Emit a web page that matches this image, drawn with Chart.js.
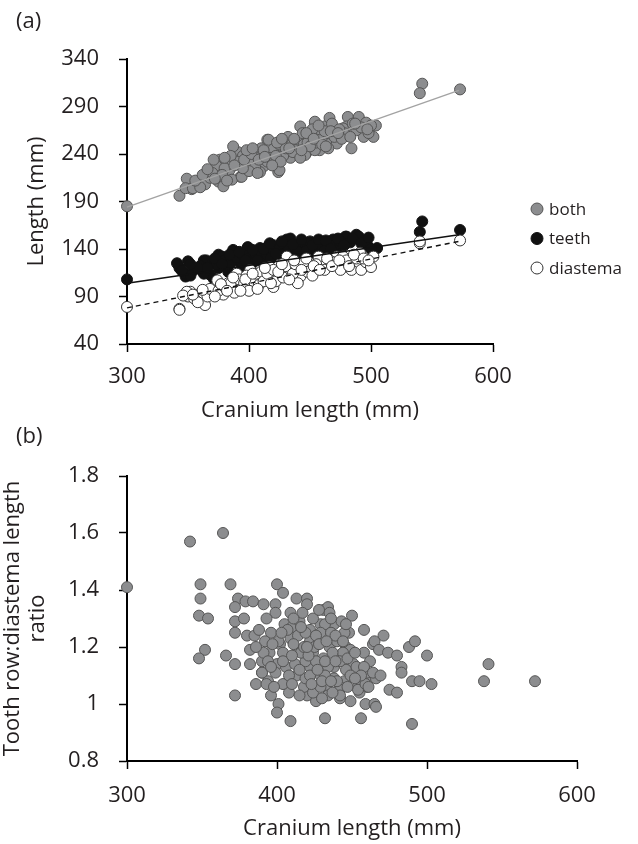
<!DOCTYPE html>
<html>
<head>
<meta charset="utf-8">
<title>Cranium length scatter</title>
<script src="https://cdn.jsdelivr.net/npm/chart.js@4.4.1/dist/chart.umd.min.js"></script>
<style>
  html, body { margin: 0; padding: 0; background: #fff; }
  #wrap { position: relative; width: 638px; height: 844px; }
  canvas { position: absolute; left: 0; }
  #chartA { top: 0; }
  #chartB { top: 420px; }
</style>
</head>
<body>
<div id="wrap">
  <canvas id="chartA" width="638" height="430"></canvas>
  <canvas id="chartB" width="638" height="424"></canvas>
</div>
<script>
// Data: [cranium length, value]
const seriesNames = ['both', 'teeth', 'diastema'];

const bothData = [
  [300,185],[343,196],[349,214],[353,203],[348,204],[354,204],[364,208],[375,211],[373,225],[376,234],
  [379,206],[384,223],[393,216],[391,242],[398,230],[405,230],[415,241],[424,221],[415,255],[434,237],
  [442,269],[454,272],[387,248],[373,228],[384,230],[386,213],[394,216],[399,241],[405,232],[412,227],
  [409,221],[416,255],[425,244],[425,223],[434,236],[432,258],[440,248],[447,241],[454,274],[462,269],
  [456,260],[464,255],[458,244],[466,278],[472,251],[481,279],[490,279],[480,269],[494,258],[484,246],
  [502,258],[542,314],[540,304],[573,308],[496,273],[504,270],[477,267],[469,267],[454,258],[447,258],
  [465,246],[454,244],[446,239],[371,234],[417,241],[406,244],[400,235],[405,226],[410,238],[415,232],
  [420,245],[420,230],[425,250],[430,242],[435,250],[440,255],[445,250],[450,262],[455,252],[460,258],
  [465,262],[470,258],[410,246],[395,238],[390,232],[385,238],[380,225],[400,222],[395,225],[418,236],
  [428,238],[438,244],[448,252],[458,266],[468,272],[478,262],[488,265],[498,262],[500,270],[360,205],
  [368,215],[370,220],[378,218],[388,228],[396,234],[402,240],[408,234],[412,244],[422,238],[426,232],
  [430,246],[436,242],[442,236],[444,262],[450,248],[452,266],[460,250],[462,264],[474,266],[476,256],
  [485,272],[492,268],[356,212],[362,218],[366,224],[372,214],[380,236],[382,212],[398,244],[403,246],
  [407,220],[413,237],[419,228],[423,252],[427,256],[433,246],[437,256],[443,244],[447,262],[453,256],
  [457,270],[463,248],[467,264],[473,262],[483,258],[487,272],[497,266]
];

const teethData = [
  [300,108],[343,120],[350,127],[348,111],[363,128],[375,134],[368,113],[387,139],[399,142],[415,142],
  [431,150],[442,146],[382,121],[393,125],[409,132],[341,125],[348,114],[365,128],[378,132],[387,137],
  [399,141],[409,141],[420,144],[434,151],[445,146],[458,146],[469,150],[479,153],[488,155],[363,114],
  [371,109],[383,116],[395,121],[415,127],[434,132],[453,136],[472,137],[542,169],[540,158],[573,160],
  [480,153],[490,153],[505,141],[497,144],[355,118],[360,122],[370,125],[375,120],[380,128],[385,125],
  [390,131],[395,134],[400,130],[405,136],[410,137],[415,134],[420,138],[425,140],[428,146],[432,138],
  [438,142],[440,137],[448,142],[450,148],[455,140],[460,143],[465,145],[470,144],[475,148],[483,147],
  [495,149],[500,140],[402,124],[418,130],[426,134],[440,130],[462,138],[352,112],[358,120],[345,117],
  [352,124],[366,120],[372,130],[378,124],[384,134],[392,137],[397,128],[403,139],[407,128],[412,140],
  [417,146],[422,135],[427,148],[436,145],[443,150],[447,138],[452,144],[457,150],[463,149],[467,140],
  [473,151],[478,144],[485,151],[492,146],[498,152]
];

const diastemaData = [
  [300,79],[343,77],[352,95],[364,81],[371,99],[383,104],[404,109],[420,100],[350,90],[343,76],
  [349,95],[360,93],[371,95],[379,92],[386,97],[394,100],[404,106],[406,114],[417,109],[425,113],
  [434,118],[442,111],[450,121],[460,125],[457,132],[475,118],[484,118],[492,118],[491,136],[472,132],
  [374,107],[401,118],[431,132],[417,121],[390,114],[477,132],[502,132],[540,146],[573,149],[540,148],
  [355,88],[358,84],[366,90],[368,98],[375,96],[380,100],[385,104],[388,94],[392,108],[396,104],
  [398,112],[400,96],[408,102],[410,116],[412,106],[415,114],[420,118],[422,106],[428,110],[430,122],
  [436,114],[438,124],[440,104],[445,126],[448,116],[452,112],[455,124],[462,118],[466,128],[470,126],
  [480,128],[488,130],[496,126],[500,121],[346,91],[354,92],[362,97],[372,90],[377,103],[382,96],
  [387,110],[393,96],[397,108],[403,114],[407,98],[413,120],[418,104],[424,116],[427,124],[433,108],
  [437,128],[443,118],[447,130],[453,122],[458,118],[464,130],[468,122],[474,128],[482,122],[486,134],
  [494,130],[498,128]
];

// Trend line end points
const bothTrend = [[300,184],[572,307]];
const teethTrend = [[300,104],[572,155]];
const diastemaTrend = [[300,78],[572,148]];

const ratioData = [
  [300,1.41],[342,1.57],[364,1.60],[349,1.42],[369,1.42],[349,1.37],[348,1.31],[354,1.30],[352,1.19],[348,1.16],
  [366,1.17],[372,1.14],[372,1.03],[400,1.42],[404,1.39],[374,1.37],[379,1.36],[384,1.36],[391,1.35],[399,1.35],
  [372,1.34],[399,1.32],[372,1.29],[378,1.30],[372,1.25],[380,1.24],[385,1.24],[413,1.37],[420,1.37],[420,1.35],
  [409,1.32],[431,1.33],[434,1.34],[435,1.32],[450,1.31],[458,1.26],[382,1.19],[382,1.14],[390,1.15],[386,1.07],
  [390,1.11],[394,1.08],[396,1.03],[401,1.00],[400,0.97],[409,0.94],[432,0.95],[456,0.95],[408,1.04],[420,1.03],
  [426,1.01],[442,1.02],[449,1.01],[455,1.04],[459,1.00],[465,1.00],[464,1.21],[458,1.18],[461,1.10],[460,1.06],
  [405,1.28],[410,1.27],[415,1.29],[422,1.26],[429,1.28],[438,1.28],[443,1.29],[448,1.25],[396,1.25],[392,1.22],
  [402,1.21],[409,1.23],[414,1.24],[422,1.22],[435,1.20],[441,1.23],[446,1.20],[449,1.19],[395,1.18],[404,1.18],
  [414,1.19],[424,1.18],[431,1.16],[442,1.17],[451,1.14],[400,1.14],[406,1.13],[413,1.10],[422,1.13],[429,1.10],
  [438,1.09],[445,1.08],[454,1.06],[404,1.07],[418,1.06],[433,1.06],[442,1.06],[424,1.04],[412,1.14],[419,1.15],
  [426,1.15],[438,1.13],[419,1.09],[434,1.13],[446,1.12],[471,1.24],[465,1.22],[468,1.19],[474,1.18],[480,1.17],
  [488,1.20],[492,1.22],[500,1.17],[483,1.13],[483,1.11],[490,1.08],[495,1.08],[503,1.07],[541,1.14],[538,1.08],
  [572,1.08],[475,1.05],[480,1.04],[490,0.93],[466,0.99],[462,1.15],[460,1.11],[466,1.09],[454,1.05],[445,1.25],
  [440,1.22],[444,1.18],[453,1.13],[442,1.15],[449,1.10],[442,1.05],[459,1.07],[424,1.30],[432,1.28],[419,1.25],
  [429,1.25],[436,1.25],[401,1.22],[425,1.20],[391,1.18],[416,1.18],[394,1.15],[404,1.15],[432,1.15],[390,1.11],
  [399,1.11],[422,1.10],[432,1.10],[393,1.07],[429,1.06],[434,1.03],[439,1.24],[458,1.13],[464,1.11],[469,1.10],
  [440,1.08],[461,1.06],[442,1.03],[407,1.26],[411,1.21],[416,1.27],[418,1.20],[421,1.17],[426,1.24],[428,1.21],
  [433,1.22],[437,1.18],[439,1.15],[444,1.22],[447,1.16],[452,1.18],[456,1.10],[427,1.12],[423,1.07],[430,1.08],
  [436,1.08],[410,1.17],[408,1.10],[415,1.12],[397,1.21],[396,1.13],[403,1.25],[417,1.32],[428,1.33],[436,1.30],
  [446,1.28],[411,1.30],[386,1.20],[388,1.26],[393,1.30],[430,1.02],[437,1.04],[447,1.06],[452,1.09],[415,1.03],
  [410,1.07],[420,1.20],[398,1.06]
];

// Axis ticks
const lengthTicks = [40, 90, 140, 190, 240, 290, 340];
const ratioTicks = ['0.8', '1', '1.2', '1.4', '1.6', '1.8'];
const craniumTicks = [300, 400, 500, 600];

(function() {
  'use strict';

  const FONT = "'Open Sans', 'DejaVu Sans', sans-serif";
  const TEXT = '#231f20';
  const GREY = '#8c8d8f';

  const toPoints = arr => arr.map(([x, y]) => ({ x, y }));

  // Draws the point legend to the right of panel (a)
  const sideLegend = {
    id: 'sideLegend',
    afterDraw(chart, args, opts) {
      if (!opts.items) return;
      const ctx = chart.ctx;
      ctx.save();
      ctx.font = `${opts.size}px ${FONT}`;
      ctx.textBaseline = 'middle';
      opts.items.forEach((idx, i) => {
        const ds = chart.data.datasets[idx];
        const y = opts.y + i * opts.spacing;
        ctx.beginPath();
        ctx.arc(opts.x, y, opts.radius, 0, Math.PI * 2);
        ctx.fillStyle = ds.backgroundColor;
        ctx.fill();
        ctx.lineWidth = 1;
        ctx.strokeStyle = ds.borderColor;
        ctx.stroke();
        ctx.fillStyle = TEXT;
        ctx.fillText(ds.label, opts.x + 12, y + 1);
      });
      ctx.restore();
    }
  };

  // Panel letter, top left
  const panelLabel = {
    id: 'panelLabel',
    afterDraw(chart, args, opts) {
      if (!opts.text) return;
      const ctx = chart.ctx;
      ctx.save();
      ctx.font = `22px ${FONT}`;
      ctx.fillStyle = TEXT;
      ctx.textBaseline = 'middle';
      ctx.fillText(opts.text, opts.x, opts.y);
      ctx.restore();
    }
  };

  function axis(o) {
    return {
      type: 'linear',
      position: o.position,
      min: o.min,
      max: o.max,
      afterBuildTicks: scale => { scale.ticks = o.ticks.map(v => ({ value: Number(v) })); },
      ticks: {
        padding: o.tickPad,
        color: TEXT,
        font: { family: FONT, size: 22 },
        callback: o.format || (v => v)
      },
      grid: {
        drawOnChartArea: false,
        drawTicks: true,
        tickLength: 8,
        tickColor: '#000',
        tickWidth: 1.5
      },
      border: { display: true, color: '#000', width: 2 },
      title: {
        display: true,
        text: o.title,
        color: TEXT,
        font: { family: FONT, size: 22, lineHeight: o.lineHeight || 1.2 },
        padding: o.titlePad
      },
      afterFit: scale => {
        if (scale.isHorizontal()) scale.height = o.size; else scale.width = o.size;
      }
    };
  }

  function points(label, data, fill, stroke, order) {
    return {
      label,
      data: toPoints(data),
      backgroundColor: fill,
      borderColor: stroke,
      borderWidth: 1,
      pointRadius: 5.5,
      clip: false,
      order
    };
  }

  function trend(data, color, dash) {
    return {
      type: 'line',
      data: toPoints(data),
      borderColor: color,
      borderWidth: 1.4,
      borderDash: dash || [],
      pointRadius: 0,
      fill: false,
      clip: false,
      order: 0
    };
  }

  const common = {
    responsive: false,
    animation: false,
    events: [],
    plugins: { legend: { display: false }, tooltip: { enabled: false } }
  };

  // Panel (a)
  new Chart(document.getElementById('chartA'), {
    type: 'scatter',
    data: {
      datasets: [
        points(seriesNames[0], bothData, GREY, '#555', 3),
        points(seriesNames[1], teethData, '#111', '#111', 2),
        points(seriesNames[2], diastemaData, '#fff', '#333', 1),
        trend(bothTrend, '#a3a3a3'),
        trend(teethTrend, '#111'),
        trend(diastemaTrend, '#111', [5, 4])
      ]
    },
    options: {
      ...common,
      layout: { padding: { top: 59, right: 145, left: 0, bottom: 0 } },
      scales: {
        x: axis({ position: 'bottom', min: 300, max: 600, ticks: craniumTicks, tickPad: 12,
                  title: 'Cranium length (mm)', titlePad: { top: 0, bottom: 6 }, size: 86 }),
        y: axis({ position: 'left', min: 40, max: 340, ticks: lengthTicks, tickPad: 20,
                  title: 'Length (mm)', titlePad: { top: 24, bottom: 0 }, size: 127 })
      },
      plugins: {
        ...common.plugins,
        sideLegend: { items: [0, 1, 2], x: 537, y: 209, spacing: 29.5, radius: 6, size: 17 },
        panelLabel: { text: '(a)', x: 16, y: 22 }
      }
    },
    plugins: [sideLegend, panelLabel]
  });

  // Panel (b)
  new Chart(document.getElementById('chartB'), {
    type: 'scatter',
    data: {
      datasets: [points('ratio', ratioData, GREY, '#555', 1)]
    },
    options: {
      ...common,
      layout: { padding: { top: 56, right: 61, left: 0, bottom: 0 } },
      scales: {
        x: axis({ position: 'bottom', min: 300, max: 600, ticks: craniumTicks, tickPad: 14,
                  title: 'Cranium length (mm)', titlePad: { top: 0, bottom: 2 }, size: 83 }),
        y: axis({ position: 'left', min: 0.8, max: 1.8, ticks: ratioTicks, tickPad: 20,
                  title: ['Tooth row:diastema length', 'ratio'], lineHeight: 1.15,
                  titlePad: { top: 0, bottom: 0 }, size: 127,
                  format: v => ratioTicks.find(t => Math.abs(Number(t) - v) < 1e-6) || v })
      },
      plugins: {
        ...common.plugins,
        panelLabel: { text: '(b)', x: 16, y: 17 }
      }
    },
    plugins: [panelLabel]
  });
})();
</script>
</body>
</html>
